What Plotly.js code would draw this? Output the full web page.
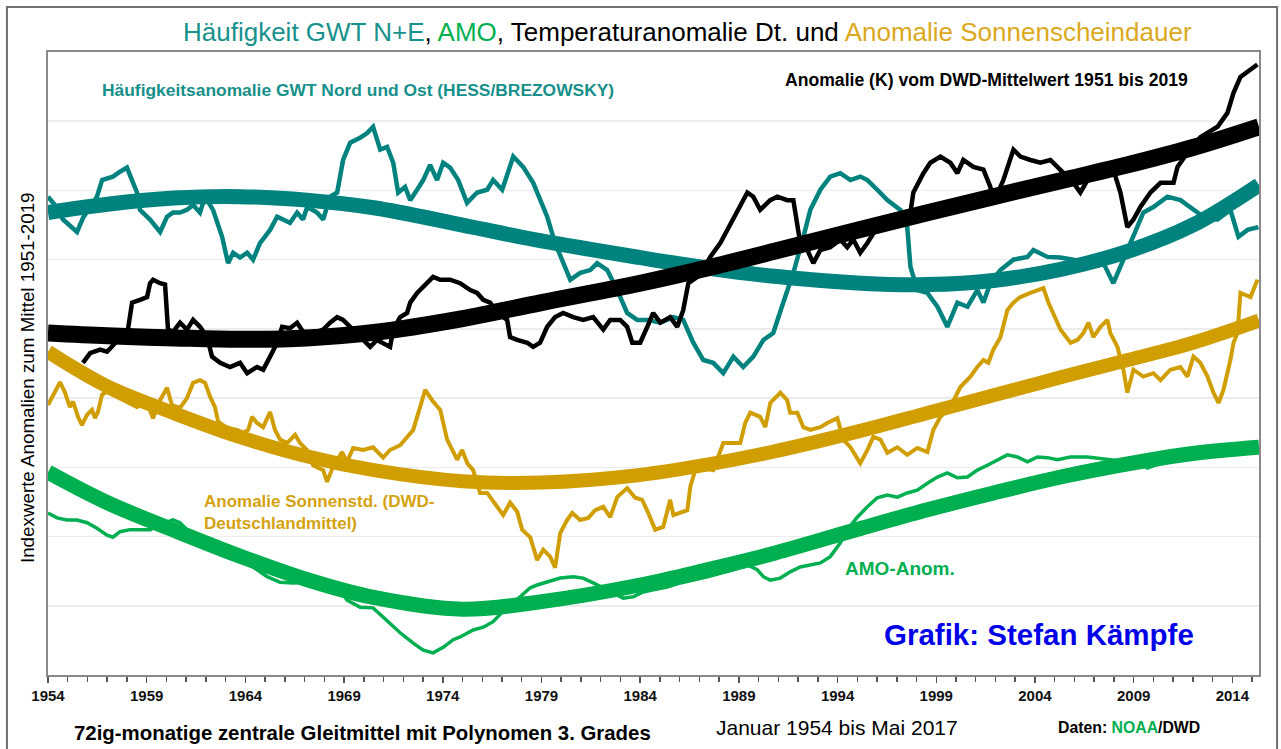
<!DOCTYPE html>
<html>
<head>
<meta charset="utf-8">
<script src="https://cdn.plot.ly/plotly-3.0.1.min.js"></script>
<style>
  html, body { margin: 0; padding: 0; background: #ffffff; }
  #chart { width: 1281px; height: 749px; }
</style>
</head>
<body>
<div id="chart"></div>
<script>
// ---- Data (index units) ----
const gwtYears = [1954.0,1954.35,1954.76,1955.47,1955.77,1956.48,1956.74,1956.99,1957.29,1957.65,
1958.0,1958.31,1958.51,1958.66,1959.17,1959.68,1960.03,1960.33,1960.69,1961.04,
1961.35,1961.7,1961.96,1962.36,1962.82,1963.12,1963.38,1963.73,1964.09,1964.39,
1964.74,1965.25,1965.61,1965.91,1966.26,1966.62,1966.92,1967.13,1967.63,1967.94,
1968.29,1968.65,1968.95,1969.31,1969.81,1970.17,1970.47,1970.83,1971.18,1971.49,
1971.74,1972.09,1972.35,1972.7,1973.01,1973.36,1973.71,1974.02,1974.37,1974.78,
1975.23,1975.74,1976.25,1976.55,1977.01,1977.57,1978.07,1978.58,1978.93,1979.29,
1979.69,1980.1,1980.46,1980.96,1981.47,1981.82,1982.33,1982.84,1983.34,1983.85,
1984.36,1985.02,1985.68,1986.18,1986.69,1987.2,1987.7,1988.21,1988.72,1989.22,
1989.73,1990.24,1990.74,1991.25,1991.76,1992.27,1992.62,1993.13,1993.63,1994.14,
1994.65,1995.15,1995.51,1996.01,1996.52,1997.18,1997.53,1997.69,1998.04,1998.55,
1999.06,1999.56,2000.07,2000.58,2001.08,2001.39,2001.74,2002.25,2002.91,2003.62,
2003.92,2004.63,2005.29,2005.95,2006.96,2007.47,2007.97,2008.48,2008.99,2009.49,
2010.0,2010.71,2011.37,2011.88,2012.53,2013.24,2013.9,2014.31,2014.77,2015.32];
const gwtValues = [6.91,6.79,6.58,6.40,6.60,6.91,7.15,7.18,7.20,7.27,
7.33,7.11,6.97,6.72,6.58,6.40,6.62,6.68,6.68,6.72,
6.79,6.68,6.91,6.72,6.33,5.95,6.10,6.03,6.10,6.00,
6.24,6.43,6.62,6.58,6.53,6.68,6.58,6.76,6.68,6.58,
6.91,6.97,7.44,7.69,7.76,7.83,7.92,7.59,7.63,7.40,
6.97,7.05,6.86,7.01,7.15,7.37,7.15,7.40,7.33,7.15,
6.82,6.97,7.01,7.15,7.01,7.49,7.34,7.11,6.86,6.62,
6.24,5.95,5.71,5.81,5.85,5.95,5.85,5.56,5.23,5.13,
5.13,5.09,5.17,5.13,4.80,4.55,4.51,4.36,4.60,4.45,
4.60,4.84,4.94,5.38,5.81,6.33,6.72,7.01,7.20,7.25,
7.15,7.20,7.15,7.01,6.86,6.72,6.47,5.90,5.56,5.52,
5.32,5.03,5.38,5.32,5.56,5.38,5.66,5.85,6.00,6.04,
6.14,6.04,6.03,6.00,5.95,5.95,5.66,6.00,6.33,6.68,
6.76,6.91,6.86,6.76,6.62,6.58,6.72,6.33,6.43,6.47];

const tempYears = [1955.77,1956.13,1956.64,1956.99,1958.05,1958.26,1958.66,1959.02,1959.17,1959.32,
1959.68,1959.93,1960.08,1960.34,1960.69,1961.04,1961.35,1961.7,1962.06,1962.31,
1962.72,1963.22,1963.73,1964.09,1964.59,1964.9,1965.25,1965.61,1965.86,1966.26,
1966.62,1966.92,1967.43,1967.94,1968.29,1968.65,1968.95,1969.31,1969.81,1970.32,
1970.67,1970.98,1971.33,1971.49,1971.84,1972.19,1972.35,1972.7,1973.01,1973.51,
1973.87,1974.37,1974.88,1975.39,1975.74,1976.05,1976.4,1976.76,1977.26,1977.41,
1977.77,1978.28,1978.58,1978.93,1979.29,1979.69,1980.1,1980.61,1981.11,1981.62,
1982.13,1982.48,1982.99,1983.34,1983.6,1984.0,1984.36,1984.66,1985.02,1985.52,
1985.88,1986.18,1986.44,1986.89,1987.2,1987.55,1988.06,1988.41,1988.72,1989.07,
1989.43,1989.73,1990.08,1990.59,1990.95,1991.45,1991.76,1992.11,1992.47,1992.77,
1993.13,1993.63,1994.14,1994.49,1994.8,1995.15,1995.51,1996.01,1996.67,1997.18,
1997.69,1997.84,1998.35,1998.7,1999.21,1999.71,2000.07,2000.37,2000.88,2001.39,
2001.74,2001.89,2002.4,2002.91,2003.26,2003.77,2004.27,2004.78,2005.14,2005.64,
2005.95,2006.3,2006.66,2007.16,2007.47,2007.97,2008.33,2008.68,2008.99,2009.34,
2009.85,2010.36,2011.02,2011.22,2011.72,2012.38,2013.25,2013.75,2014.06,2014.41,
2014.92,2015.27];
const tempValues = [4.51,4.65,4.70,4.67,4.99,5.38,5.42,5.46,5.66,5.71,
5.66,5.64,4.99,4.96,5.09,4.99,5.13,5.03,4.88,4.60,
4.51,4.45,4.51,4.36,4.45,4.41,4.60,4.80,5.03,5.01,
5.09,4.96,4.94,4.99,5.09,5.17,5.13,5.03,4.88,4.74,
4.84,4.80,4.74,4.99,5.17,5.23,5.38,5.52,5.61,5.75,
5.71,5.71,5.66,5.56,5.52,5.42,5.38,5.23,5.13,4.88,
4.84,4.80,4.74,4.80,5.03,5.17,5.23,5.17,5.13,5.17,
4.99,5.13,5.13,5.03,4.80,4.80,5.03,5.23,5.09,5.17,
5.03,5.27,5.66,5.75,5.85,6.04,6.24,6.43,6.58,6.76,
6.97,6.91,6.72,6.86,6.91,6.86,6.86,6.24,6.14,5.95,
6.14,6.18,6.29,6.18,6.29,6.10,6.24,6.47,6.53,6.62,
6.68,6.97,7.25,7.40,7.49,7.40,7.25,7.44,7.34,7.30,
7.05,6.82,7.15,7.59,7.49,7.44,7.40,7.44,7.34,7.20,
7.11,6.97,7.15,7.20,7.25,7.30,6.97,6.47,6.58,6.76,
6.97,7.11,7.11,7.34,7.54,7.77,7.92,8.12,8.41,8.64,
8.74,8.82];

const sunYears = [1954.0,1954.35,1954.61,1954.86,1955.11,1955.27,1955.52,1955.72,1955.98,1956.23,
1956.38,1956.53,1956.74,1956.99,1957.5,1958.0,1958.51,1959.02,1959.32,1959.68,
1960.03,1960.28,1960.69,1961.04,1961.35,1961.7,1961.96,1962.21,1962.46,1962.62,
1963.07,1963.58,1963.88,1964.14,1964.34,1964.59,1964.9,1965.25,1965.5,1965.76,
1966.11,1966.52,1966.77,1967.13,1967.43,1967.94,1968.14,1968.44,1968.9,1969.15,
1969.46,1969.96,1970.47,1970.98,1971.33,1971.84,1972.19,1972.5,1972.85,1973.11,
1973.46,1973.87,1974.22,1974.53,1974.73,1974.98,1975.24,1975.54,1975.89,1976.25,
1976.76,1977.06,1977.41,1977.77,1978.02,1978.43,1978.78,1979.09,1979.44,1979.69,
1979.95,1980.3,1980.56,1980.96,1981.37,1981.72,1982.13,1982.48,1982.84,1983.34,
1983.75,1984.1,1984.41,1984.76,1985.17,1985.52,1985.68,1986.03,1986.39,1986.54,
1986.79,1987.2,1987.7,1988.21,1988.72,1989.07,1989.32,1989.58,1990.08,1990.34,
1990.59,1991.1,1991.45,1991.6,1991.96,1992.27,1992.62,1993.13,1993.48,1993.99,
1994.29,1994.65,1995.15,1995.51,1995.81,1996.17,1996.52,1997.03,1997.53,1998.04,
1998.55,1998.85,1999.21,1999.71,2000.22,2000.73,2001.08,2001.39,2001.64,2001.89,
2002.25,2002.6,2002.91,2003.26,2003.77,2004.12,2004.43,2004.68,2004.93,2005.29,
2005.8,2006.15,2006.45,2006.71,2006.96,2007.32,2007.67,2007.82,2008.18,2008.48,
2008.68,2008.99,2009.49,2010.0,2010.36,2010.86,2011.37,2011.72,2012.03,2012.38,
2012.74,2013.04,2013.3,2013.55,2013.9,2014.06,2014.26,2014.41,2014.92,2015.27];
const sunValues = [3.90,4.08,4.23,4.08,3.87,3.95,3.73,3.61,3.76,3.83,
3.71,3.80,4.05,4.09,4.02,3.95,3.87,3.93,3.71,3.97,
4.15,3.90,3.86,4.00,4.22,4.26,4.22,4.02,3.87,3.66,
3.57,3.54,3.50,3.54,3.73,3.64,3.58,3.80,3.54,3.40,
3.35,3.47,3.35,3.25,3.03,2.96,2.79,3.01,3.22,3.08,
3.28,3.25,3.29,3.14,3.25,3.32,3.44,3.54,3.87,4.12,
3.97,3.83,3.40,3.21,3.11,3.25,3.06,2.96,2.63,2.63,
2.43,2.31,2.49,2.36,2.10,1.99,1.66,1.81,1.71,1.55,
2.05,2.24,2.34,2.24,2.27,2.38,2.43,2.28,2.57,2.70,
2.56,2.53,2.34,2.10,2.14,2.53,2.31,2.34,2.38,2.72,
2.96,2.99,2.96,3.35,3.35,3.35,3.64,3.79,3.73,3.58,
3.93,4.08,3.97,3.79,3.79,3.58,3.54,3.58,3.64,3.71,
3.40,3.29,3.06,3.25,3.44,3.40,3.21,3.29,3.18,3.28,
3.22,3.54,3.73,3.87,4.16,4.31,4.45,4.55,4.51,4.70,
4.88,5.27,5.38,5.46,5.52,5.56,5.59,5.38,5.23,4.99,
4.80,4.84,4.94,5.09,4.88,5.03,5.13,4.94,4.74,4.41,
4.08,4.41,4.31,4.36,4.26,4.41,4.45,4.31,4.60,4.51,
4.31,4.08,3.93,4.12,4.55,4.80,4.94,5.52,5.46,5.71];

const amoYears = [1954.0,1954.46,1954.96,1955.47,1955.98,1956.48,1956.99,1957.29,1957.65,1958.16,
1958.66,1959.17,1959.68,1960.03,1960.33,1960.69,1961.04,1961.55,1962.06,1962.57,
1963.07,1963.73,1964.39,1965.1,1965.76,1966.42,1967.13,1967.79,1968.29,1968.8,
1969.15,1969.81,1970.47,1971.18,1971.84,1972.5,1973.01,1973.51,1974.02,1974.53,
1974.88,1975.54,1976.05,1976.55,1976.91,1977.26,1977.92,1978.43,1978.78,1979.29,
1979.95,1980.61,1981.11,1981.62,1982.13,1982.63,1983.14,1983.65,1984.15,1984.66,
1985.37,1986.03,1986.69,1987.4,1988.06,1988.72,1989.43,1989.93,1990.24,1990.59,
1991.1,1991.6,1992.11,1992.62,1993.13,1993.63,1994.14,1994.49,1995.0,1995.51,
1996.01,1996.52,1997.03,1997.53,1998.04,1998.55,1999.06,1999.56,2000.07,2000.58,
2001.08,2001.59,2002.1,2002.6,2003.11,2003.62,2004.12,2004.63,2005.14,2005.8,
2006.66,2007.67,2008.68,2009.34,2009.7,2010.36,2011.37,2012.38,2013.39,2014.41,
2015.32];
const amoValues = [2.34,2.27,2.24,2.24,2.20,2.12,2.02,1.99,2.07,2.10,
2.10,2.10,2.17,2.21,2.24,2.20,2.10,1.99,1.92,1.85,
1.76,1.66,1.56,1.42,1.34,1.33,1.34,1.37,1.30,1.23,
1.08,0.98,0.97,0.79,0.61,0.46,0.36,0.32,0.40,0.51,
0.55,0.65,0.69,0.77,0.87,0.98,1.13,1.26,1.30,1.34,
1.40,1.42,1.40,1.33,1.26,1.18,1.11,1.13,1.20,1.23,
1.27,1.33,1.37,1.42,1.47,1.52,1.59,1.52,1.42,1.37,
1.40,1.49,1.56,1.59,1.62,1.71,1.91,2.10,2.28,2.43,
2.56,2.60,2.57,2.63,2.67,2.77,2.86,2.92,2.85,2.86,
2.96,3.03,3.11,3.18,3.15,3.08,3.15,3.14,3.11,3.15,
3.15,3.11,3.08,3.06,2.99,3.06,3.11,3.15,3.21,3.25,
3.25];

// 3rd-degree polynomial trend curves
const trendYears = [1954,1957,1960.4,1963.7,1967.1,1970.5,1975,1979,1984,1987.4,1990.8,1995.2,1998.6,2001.9,2005.3,2008.7,2012,2015.35];
const gwtTrend  = [6.68,6.80,6.89,6.91,6.86,6.75,6.50,6.27,6.03,5.88,5.76,5.66,5.64,5.70,5.86,6.12,6.50,7.08];
const tempTrend = [4.94,4.90,4.87,4.85,4.87,4.95,5.15,5.38,5.66,5.88,6.12,6.44,6.68,6.91,7.14,7.37,7.62,7.92];
const sunTrend  = [4.67,4.17,3.78,3.44,3.16,2.96,2.80,2.78,2.89,3.04,3.23,3.53,3.79,4.04,4.30,4.55,4.80,5.12];
const amoTrend  = [2.93,2.49,2.09,1.72,1.38,1.12,0.95,1.06,1.30,1.52,1.76,2.12,2.39,2.63,2.86,3.05,3.20,3.29];

const xTickYears = [1954,1959,1964,1969,1974,1979,1984,1989,1994,1999,2004,2009,2014];

// ---- Styling ----
const TEAL = '#00837f', BLACK = '#000000', GOLD = '#d09e00', GREEN = '#00b050';
const FONT = 'Liberation Sans, Arial, sans-serif';

function line(x, y, color, width, smooth) {
  return { x: x, y: y, type: 'scatter', mode: 'lines',
           line: smooth ? { color: color, width: width, shape: 'spline', smoothing: 1 }
                        : { color: color, width: width, shape: 'linear' },
           hoverinfo: 'skip', showlegend: false };
}

const traces = [
  line(gwtYears, gwtValues, TEAL, 4.5),
  line(trendYears, gwtTrend, TEAL, 15, true),
  line(sunYears, sunValues, GOLD, 4),
  line(trendYears, sunTrend, GOLD, 14, true),
  line(amoYears, amoValues, GREEN, 3.5),
  line(trendYears, amoTrend, GREEN, 15, true),
  line(tempYears, tempValues, BLACK, 4.5),
  line(trendYears, tempTrend, BLACK, 17, true)
];

function ann(text, x, y, opts) {
  return Object.assign({ text: text, x: x, y: y, xref: 'paper', yref: 'paper',
    showarrow: false, xanchor: 'left', yanchor: 'middle',
    font: { family: FONT, size: 15, color: '#000' } }, opts || {});
}

const layout = {
  width: 1281, height: 749,
  margin: { l: 48, r: 22, t: 52, b: 74, pad: 0 },
  paper_bgcolor: '#ffffff', plot_bgcolor: '#ffffff',
  showlegend: false,
  xaxis: {
    range: [1954, 2015.35], tickmode: 'array', tickvals: xTickYears,
    ticktext: xTickYears.map(String),
    ticks: 'outside', ticklen: 6, tickwidth: 1.5, tickcolor: '#555',
    minor: { tickmode: 'linear', tick0: 1954, dtick: 1, ticks: 'outside', ticklen: 5, tickwidth: 1.5, tickcolor: '#555', showgrid: false },
    showgrid: false, zeroline: false,
    showline: true, linecolor: '#8a8a8a', linewidth: 2, mirror: true,
    tickfont: { family: FONT, size: 15, color: '#111', weight: 'bold' }
  },
  yaxis: {
    range: [0, 9], dtick: 1, tick0: 0, showticklabels: false, ticks: '',
    showgrid: true, gridcolor: '#ececec', gridwidth: 1.5, zeroline: false,
    showline: true, linecolor: '#8a8a8a', linewidth: 2, mirror: true
  },
  shapes: [
    { type: 'rect', xref: 'paper', yref: 'paper', x0: -0.0339, x1: 1.0149, y0: -0.25, y1: 1.0722,
      line: { color: '#707070', width: 2 }, fillcolor: 'rgba(0,0,0,0)', layer: 'below' }
  ],
  annotations: [
    ann('<span style="color:#17918c">Häufigkeit GWT N+E</span>, <span style="color:#00b050">AMO</span>, Temperaturanomalie Dt. und <span style="color:#dba81c">Anomalie Sonnenscheindauer</span>',
        0.5277, 1.0321, { xanchor: 'center', font: { family: FONT, size: 26, color: '#000' } }),
    ann('<b>Häufigkeitsanomalie GWT Nord und Ost (HESS/BREZOWSKY)</b>', 0.0429, 0.939,
        { font: { family: FONT, size: 17.4, color: '#16908b' } }),
    ann('<b>Anomalie (K) vom DWD-Mittelwert 1951 bis 2019</b>', 0.6070, 0.955,
        { font: { family: FONT, size: 17.6, color: '#000' } }),
    ann('<b>Anomalie Sonnenstd. (DWD-<br>Deutschlandmittel)</b>', 0.127, 0.2616,
        { align: 'left', font: { family: FONT, size: 17, color: '#d4a20f' } }),
    ann('<b>AMO-Anom.</b>', 0.6565, 0.1717,
        { font: { family: FONT, size: 19, color: '#00b050' } }),
    ann('<b>Grafik: Stefan Kämpfe</b>', 0.6887, 0.0658,
        { font: { family: FONT, size: 29.5, color: '#0000e8' } }),
    ann('<b>72ig-monatige zentrale Gleitmittel mit Polynomen 3. Grades</b>', 0.2601, -0.093,
        { xanchor: 'center', font: { family: FONT, size: 20.4, color: '#000' } }),
    ann('Januar 1954 bis Mai 2017', 0.6515, -0.085,
        { xanchor: 'center', font: { family: FONT, size: 21, color: '#000' } }),
    ann('<b>Daten: <span style="color:#00b050">NOAA</span>/DWD</b>', 0.8927, -0.0835,
        { xanchor: 'center', font: { family: FONT, size: 15.8, color: '#000' } }),
    ann('Indexwerte Anomalien zum Mittel 1951-2019', -0.0173, 0.4767,
        { xanchor: 'center', textangle: -90, font: { family: FONT, size: 18.8, color: '#000' } })
  ]
};

Plotly.newPlot('chart', traces, layout, { staticPlot: true, displayModeBar: false });
</script>
</body>
</html>
